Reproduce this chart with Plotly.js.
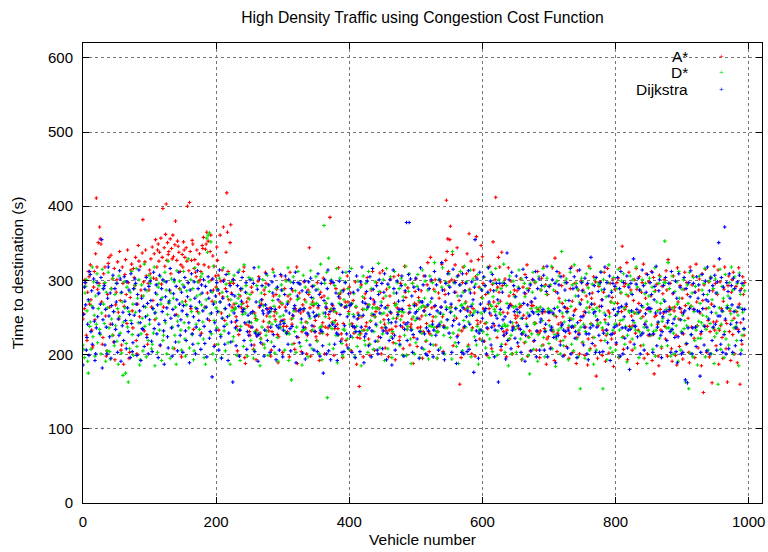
<!DOCTYPE html>
<html>
<head>
<meta charset="utf-8">
<script src="https://cdn.plot.ly/plotly-3.0.1.min.js"></script>
<style>html,body{margin:0;padding:0;background:#fff;}#chart{width:768px;height:552px;}</style>
</head>
<body>
<div id="chart"></div>
<script>
const chartTitle = "High Density Traffic using Congestion Cost Function";
const xTitle = "Vehicle number";
const yTitle = "Time to destination (s)";
const seriesNames = ["A*", "D*", "Dijkstra"];
const xTicks = [0, 200, 400, 600, 800, 1000];
const yTicks = [0, 100, 200, 300, 400, 500, 600];

const aStar = [
248,255,262,301,297,226,219,284,312,305,268,321,274,233,209,212,291,312,247,336,411,318,288,351,296,
372,356,349,271,214,223,309,296,318,252,198,205,281,323,331,264,241,334,289,302,226,217,316,193,267,
284,301,325,257,248,339,273,206,213,318,296,187,265,308,328,281,242,341,297,195,203,277,314,322,259,
236,316,304,293,331,219,201,268,347,326,251,319,287,279,337,382,298,232,325,341,306,227,214,296,287,
314,309,329,264,345,273,303,336,247,355,302,318,341,349,326,338,212,357,295,331,397,264,344,319,362,
403,327,351,335,339,286,356,309,343,329,361,332,208,348,380,254,327,353,346,338,289,312,321,197,335,
318,352,341,331,272,344,326,400,297,313,405,339,262,327,354,349,234,316,328,311,305,341,258,322,298,
336,301,312,229,347,343,358,321,264,342,349,365,283,353,318,246,339,361,301,272,333,287,319,213,306,
291,345,327,307,233,282,361,299,256,314,278,372,301,246,289,338,418,365,312,274,296,351,375,283,264,
301,296,268,262,244,251,238,205,199,227,233,279,287,263,258,269,312,318,196,188,241,271,265,276,239,
231,226,237,291,284,258,207,213,256,249,193,233,226,299,305,264,229,222,268,274,214,245,287,281,311,
296,252,261,237,232,244,263,198,206,231,315,279,252,258,247,281,288,227,189,224,264,271,245,306,268,
203,238,247,289,264,301,238,231,279,271,197,311,275,248,241,286,252,215,207,262,259,318,188,223,276,
283,261,256,204,231,267,259,298,274,236,244,201,226,287,281,344,263,198,232,292,271,266,238,231,246,
224,219,297,263,252,192,229,284,277,238,243,303,279,201,237,269,262,227,236,254,249,385,296,261,243,
266,259,199,235,246,289,256,241,235,317,281,276,283,228,221,196,242,288,264,271,219,213,306,271,258,
291,267,283,205,242,239,273,229,236,298,264,187,223,256,249,157,222,228,294,251,261,197,233,276,282,
238,243,304,267,221,214,199,245,287,253,312,274,268,206,251,258,297,263,218,224,262,310,284,201,236,
313,276,247,241,209,232,288,253,266,197,233,279,302,256,234,229,216,305,269,193,238,249,263,257,307,
219,224,296,261,252,237,208,243,319,284,277,199,234,290,256,266,213,237,241,248,296,188,223,269,285,
302,267,211,236,277,271,248,237,286,252,195,231,306,259,264,218,242,294,324,231,204,228,331,299,263,
245,251,288,265,301,213,237,195,231,283,276,239,298,264,322,251,204,239,287,281,327,408,339,356,312,
298,355,373,264,301,335,212,246,299,321,284,249,344,226,307,273,160,312,196,232,297,318,236,286,261,
271,309,336,264,213,363,288,257,326,201,236,262,314,283,198,305,359,246,241,328,291,221,244,347,277,
332,296,262,218,242,281,243,199,235,268,262,319,287,253,208,295,352,271,239,301,412,265,223,291,331,
284,318,272,206,338,293,257,231,226,302,214,197,233,256,317,279,221,268,299,266,201,238,281,287,253,
249,243,286,252,211,235,264,302,266,193,228,291,253,216,308,282,249,321,198,224,289,232,205,271,266,
301,266,218,243,297,242,206,231,312,261,229,196,232,287,303,256,213,318,235,258,294,187,221,281,224,
246,292,258,209,234,317,231,254,192,330,285,251,204,229,241,276,310,218,243,293,269,251,306,199,224,
263,211,297,262,236,195,229,289,248,318,272,203,237,259,296,261,188,223,313,287,229,201,246,299,274,
216,287,253,258,199,237,279,294,186,221,319,264,208,242,276,283,223,305,268,212,298,171,246,195,239,
292,265,298,219,274,199,233,284,311,247,191,226,233,316,259,202,256,296,271,221,277,302,184,229,288,
253,214,297,269,303,196,241,317,283,258,346,224,207,292,261,296,265,324,193,279,311,238,217,287,252,
206,239,273,301,256,229,316,288,188,233,269,305,259,212,284,297,251,322,195,241,276,309,261,201,226,
298,262,226,279,312,192,227,304,174,251,286,253,295,241,198,185,307,261,233,209,292,282,256,301,238,
221,313,287,198,328,259,264,296,261,208,191,282,306,259,264,199,226,186,317,271,248,211,293,262,257,
276,194,228,288,311,266,214,297,281,249,203,189,318,265,237,294,306,261,222,196,284,322,271,239,209,
287,302,256,228,185,309,273,149,294,238,315,262,203,238,246,298,197,231,304,268,162,286,244,319,233,
296,212,245,281,314,187,233,298,239,262,223,195,272,288,318,246,208,242,163,293,306,231,259,192,284,
301,227,311,249,201,236,292,258,189,234,317,268,160,243,289,214,305,281,226,297
];

const dStar = [
213,207,196,283,292,301,259,191,175,272,238,244,207,266,318,224,298,253,198,279,241,309,216,262,293,
234,227,201,256,315,289,268,242,297,191,284,205,263,311,236,204,194,289,248,226,303,258,212,281,239,
296,218,262,187,306,251,229,283,202,271,172,244,298,263,175,215,291,237,163,258,208,284,246,312,227,
268,199,289,294,257,316,211,276,243,301,186,193,228,294,249,205,279,322,238,264,197,286,253,219,307,
241,296,303,208,214,262,229,318,185,257,249,281,203,291,296,233,305,268,192,277,219,226,299,311,243,
287,201,254,326,269,273,195,283,302,237,209,276,298,226,264,187,313,245,252,217,299,288,233,206,271,
294,312,243,221,198,267,286,252,329,236,209,274,301,258,227,289,193,205,317,263,241,279,298,215,256,
234,281,305,267,309,244,221,196,263,187,274,357,338,361,298,364,255,352,228,284,201,319,246,271,193,
263,236,289,214,258,303,271,227,196,284,249,317,232,262,205,295,241,278,216,309,253,187,274,298,259,
218,224,307,261,263,269,199,233,276,281,314,192,238,268,289,254,211,321,262,256,293,283,198,244,304,
275,281,219,243,302,256,195,206,231,252,246,293,247,229,318,271,185,221,283,237,301,266,214,209,291,
226,232,307,199,243,285,251,258,217,241,273,311,265,202,245,289,256,223,191,237,279,251,236,294,269,
287,253,244,206,231,299,228,271,317,192,228,281,298,166,214,249,305,259,231,286,203,237,274,312,276,
296,261,211,243,186,233,307,262,234,291,271,219,243,197,255,284,249,313,268,208,233,276,293,268,252,
305,269,218,288,254,201,236,322,238,193,229,256,374,296,251,269,311,142,276,330,214,238,261,301,235,
244,208,243,293,258,226,316,189,226,282,269,303,267,286,215,198,234,274,233,298,311,266,221,289,255,
207,241,268,316,269,223,254,282,197,231,265,238,211,299,253,227,252,291,185,232,278,306,261,219,213,
296,261,233,203,312,267,214,246,289,255,263,207,231,251,298,263,239,218,262,323,285,209,244,271,255,
228,301,256,192,237,279,316,263,208,243,291,258,305,224,196,231,249,283,312,266,215,268,297,252,258,
289,212,247,303,258,199,278,257,226,294,319,199,234,238,285,309,262,221,188,234,296,251,267,201,246,
216,249,292,308,261,273,196,232,264,229,314,266,207,276,299,253,219,265,287,194,239,306,271,238,226,
297,213,237,324,285,251,231,195,231,301,256,239,209,244,291,317,254,226,201,236,298,264,236,247,293,
309,263,223,258,194,339,229,297,252,216,263,211,305,279,188,233,294,312,266,267,205,284,246,319,269,
237,298,262,211,244,287,253,314,197,233,268,302,256,224,259,295,213,238,308,187,232,234,289,256,219,
276,231,304,258,293,209,243,227,318,283,196,221,267,311,265,204,278,296,261,258,316,287,199,232,269,
301,256,254,289,214,238,297,322,241,203,238,293,269,239,185,221,306,284,226,201,243,299,264,278,234,
265,203,238,257,291,314,268,221,249,302,194,229,231,296,278,217,241,289,256,199,223,174,296,262,228,
284,311,207,241,243,298,263,258,191,227,305,259,264,287,212,246,316,223,292,197,232,281,303,258,262,
215,239,294,259,319,208,233,287,253,227,184,221,299,264,233,306,271,201,236,339,256,219,212,244,297,
273,302,257,258,193,239,249,311,265,214,294,248,205,321,239,279,296,221,288,197,233,270,154,237,303,
298,217,241,284,195,231,309,263,271,290,257,206,316,241,268,295,261,187,223,302,252,206,263,241,297,
294,259,243,312,287,236,154,301,256,219,243,278,193,228,297,321,251,209,271,286,203,233,304,269,241,
206,241,289,255,315,197,233,246,284,299,223,247,309,263,214,238,281,190,226,294,259,257,306,283,236,
221,301,257,243,209,233,318,256,291,256,196,231,287,249,228,301,264,213,237,282,296,245,188,268,233,
279,303,258,226,240,291,207,231,285,317,198,233,271,259,243,296,222,305,269,211,245,249,274,297,353,
297,261,236,212,324,236,289,254,198,233,306,263,229,201,285,251,239,298,268,191,312,276,247,206,231,
288,253,301,235,246,163,215,239,294,269,154,311,202,227,265,283,197,304,258,219,292,233,238,186,222,
245,306,269,222,243,287,253,239,296,316,197,234,251,281,206,263,299,242,305,201,274,236,289,188,224,
302,256,229,283,160,235,263,315,207,241,292,258,276,196,231,308,221,263,266,279,213,297,262,255,318,
246,287,201,236,305,259,238,219,296,253,185,310,263,281,206,226,257,293,234,286
];

const dijkstra = [
186,254,291,297,267,206,223,241,274,199,312,308,231,286,214,263,302,245,192,201,236,297,251,282,283,
229,268,304,355,182,247,289,293,213,261,237,201,276,318,252,224,283,195,266,241,307,258,217,289,234,
271,296,203,248,226,313,302,191,284,239,257,219,305,272,246,208,298,263,231,287,254,196,309,242,204,
216,289,253,302,296,268,199,281,226,314,259,243,192,276,235,234,265,211,288,251,304,223,269,201,292,
247,299,273,218,204,262,311,235,256,283,294,228,267,196,241,307,213,274,289,258,301,232,187,246,278,
298,263,224,209,271,287,316,249,236,198,261,282,301,253,217,292,274,205,239,311,268,226,247,284,259,
203,266,291,304,232,219,254,278,297,243,189,287,265,309,228,214,251,298,276,201,237,262,313,289,246,
271,226,207,294,283,259,301,238,215,292,264,197,248,305,276,222,231,286,256,170,302,268,211,243,279,
233,297,258,287,206,314,271,224,195,249,276,299,238,214,262,308,285,251,192,229,267,293,217,244,281,
163,301,256,279,236,212,246,293,311,265,198,233,289,272,304,258,261,219,243,284,297,207,231,253,226,
244,301,256,213,237,258,296,317,204,229,271,225,288,191,227,302,266,216,274,293,259,255,198,233,267,
309,262,219,256,294,258,203,237,262,298,283,227,211,306,261,193,239,291,274,236,206,241,308,287,246,
197,233,242,281,306,259,229,268,214,301,256,235,205,289,238,253,297,262,266,311,189,224,279,297,259,
216,295,261,248,286,202,237,262,299,194,229,284,228,256,298,252,213,303,277,239,292,257,206,251,231,
287,253,204,309,266,281,198,233,296,231,212,175,273,301,256,264,201,289,314,205,239,258,193,299,268,
241,297,262,214,238,283,229,192,227,278,299,254,218,267,203,311,286,204,239,297,264,228,251,209,282,
312,266,225,268,203,238,284,251,237,196,231,306,248,287,253,231,204,298,237,318,271,253,189,224,269,
228,285,299,264,212,236,305,276,197,232,316,288,254,271,218,241,293,206,201,281,301,256,223,266,296,
208,232,284,309,263,236,193,229,295,247,219,301,257,243,186,222,314,289,226,206,244,283,299,254,272,
261,214,239,293,306,261,273,198,234,286,241,378,219,243,308,378,257,302,233,279,203,227,291,266,256,
303,258,221,249,288,195,231,317,271,209,271,294,259,228,306,201,236,199,267,232,289,254,214,301,276,
241,197,233,312,266,226,294,259,238,206,241,301,256,264,324,287,202,237,193,271,296,261,247,309,282,
229,291,257,268,203,239,315,246,284,297,262,188,224,306,216,241,294,259,279,203,309,263,201,238,286,
296,251,204,259,313,207,241,283,265,298,253,274,176,291,355,219,232,302,257,195,229,311,268,233,287,
249,218,305,259,293,262,201,236,284,317,271,256,299,213,237,308,242,286,197,233,253,296,249,274,163,
239,296,261,211,235,284,247,226,296,251,194,229,337,219,263,301,266,244,208,311,233,236,293,258,222,
278,306,261,216,239,289,257,234,203,228,249,315,269,283,191,226,304,238,267,286,252,253,294,205,271,
258,301,256,219,276,312,197,232,289,254,302,206,244,248,293,258,261,307,206,231,241,285,319,197,257,
292,257,208,233,237,301,256,223,262,296,189,224,312,283,226,294,259,213,305,239,241,198,233,264,287,
231,297,258,209,233,273,246,316,201,237,238,289,253,305,222,231,291,196,243,279,227,314,268,251,297,
286,251,213,237,303,257,228,201,296,193,228,282,236,331,268,215,239,256,293,258,203,304,237,247,285,
226,203,297,311,265,274,204,229,288,318,253,233,297,216,241,279,306,192,227,284,228,296,261,237,292,
253,216,239,304,258,263,289,198,312,265,236,201,297,251,222,236,268,306,209,233,291,180,234,296,259,
281,246,329,214,238,238,295,261,224,303,257,287,201,226,266,314,229,293,206,241,255,284,237,308,262,
263,227,297,262,281,311,203,228,274,292,256,319,212,237,244,286,301,256,226,196,231,251,293,258,272,
304,258,219,243,246,296,261,231,203,312,234,242,283,248,223,299,204,276,189,224,309,263,291,247,201,
229,203,256,304,259,166,289,215,162,236,297,262,278,313,227,201,236,296,261,284,237,211,305,259,276,
294,258,171,203,231,308,262,281,213,238,299,274,205,318,272,248,286,201,303,257,219,293,237,265,307,
241,283,206,298,252,351,329,252,214,304,259,203,291,227,372,248,201,297,263,285,208,309,276,241,293,
267,203,303,258,289,212,236,243,298,264,231,307,286,201,219,296,261,248,235,261
];

const seriesValues = [aStar, dStar, dijkstra];
const seriesColors = ["#ff0000", "#00e000", "#0000ff"];
const FONT = "'Liberation Sans', Arial, Helvetica, sans-serif";

const traces = seriesValues.map((vals, k) => ({
  type: "scatter",
  mode: "markers",
  name: seriesNames[k],
  x: vals.map((_, i) => i),
  y: vals,
  showlegend: false,
  hoverinfo: "skip",
  marker: {
    symbol: "cross-thin",
    size: 2.6,
    color: seriesColors[k],
    line: {width: 1.1, color: seriesColors[k]}
  }
}));

const axisCommon = {
  showline: true, linecolor: "#000", linewidth: 1, mirror: "ticks",
  ticks: "inside", ticklen: 6, tickwidth: 1, tickcolor: "#000",
  showgrid: true, gridcolor: "#777", griddash: "dot", gridwidth: 1,
  zeroline: false,
  tickfont: {family: FONT, size: 15, color: "#000"}
};

const legendAnn = [];
const legY = [0.9696, 0.9348, 0.900];
seriesNames.forEach((nm, k) => {
  legendAnn.push({xref: "paper", yref: "paper", x: 0.894, y: legY[k], xanchor: "right", yanchor: "middle",
    text: nm, showarrow: false, font: {family: FONT, size: 15.5, color: "#000"}});
  legendAnn.push({xref: "paper", yref: "paper", x: 0.941, y: legY[k], xanchor: "center", yanchor: "middle",
    text: "+", showarrow: false, font: {family: FONT, size: 8, color: seriesColors[k]}});
});

const layout = {
  width: 768, height: 552,
  margin: {l: 83, r: 6, t: 43, b: 49, pad: 0},
  paper_bgcolor: "#fff", plot_bgcolor: "#fff",
  font: {family: FONT, size: 15, color: "#000"},
  title: {text: chartTitle, x: 0.5, xref: "paper", y: 1 - 18/552, yref: "container", yanchor: "middle",
    font: {family: FONT, size: 15.7, color: "#000"}},
  xaxis: Object.assign({}, axisCommon, {
    range: [0, 1020], tickvals: xTicks, ticktext: xTicks.map(String), ticklabelstandoff: 5,
    title: {text: xTitle, standoff: 5, font: {family: FONT, size: 15.5, color: "#000"}}
  }),
  yaxis: Object.assign({}, axisCommon, {
    range: [0, 620], tickvals: yTicks, ticktext: yTicks.map(String), ticklabelstandoff: 6,
    title: {text: yTitle, standoff: 20, font: {family: FONT, size: 15.5, color: "#000"}}
  }),
  annotations: legendAnn,
  showlegend: false
};

Plotly.newPlot("chart", traces, layout, {staticPlot: true, displayModeBar: false});
</script>
</body>
</html>
